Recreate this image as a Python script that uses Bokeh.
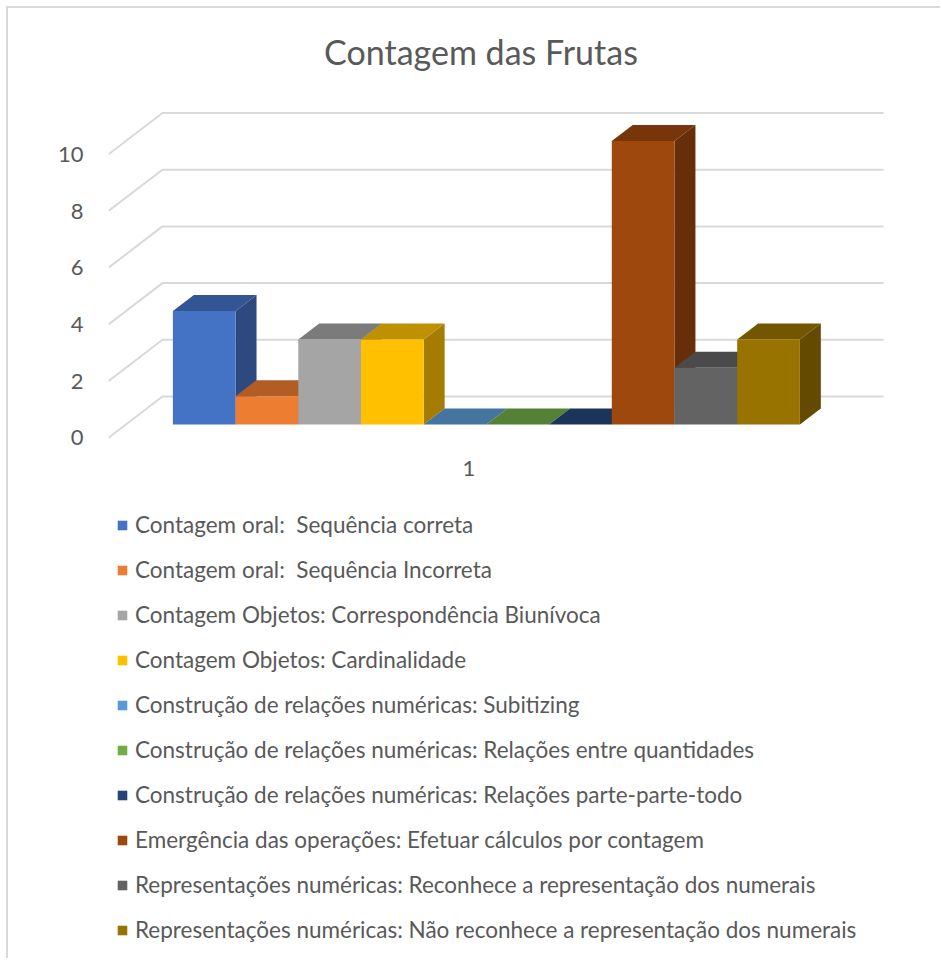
from bokeh.plotting import figure
from bokeh.models import Range1d, FixedTicker, Legend, LegendItem, ColumnDataSource, Label
from bokeh.embed import file_html
from bokeh.resources import INLINE
from bokeh.core.properties import value

# ---------------- data ----------------
chart_title = "Contagem das Frutas"
categories = ["1"]
series_names = [
    "Contagem oral:  Sequência correta",
    "Contagem oral:  Sequência Incorreta",
    "Contagem Objetos: Correspondência Biunívoca",
    "Contagem Objetos: Cardinalidade",
    "Construção de relações numéricas: Subitizing",
    "Construção de relações numéricas: Relações entre quantidades",
    "Construção de relações numéricas: Relações parte-parte-todo",
    "Emergência das operações: Efetuar cálculos por contagem",
    "Representações numéricas: Reconhece a representação dos numerais",
    "Representações numéricas: Não reconhece a representação dos numerais",
]
series_values = [4, 1, 3, 3, 0, 0, 0, 10, 2, 3]
y_ticks = [0, 2, 4, 6, 8, 10]
series_colors = ["#4472C4", "#ED7D31", "#A5A5A5", "#FFC000", "#5B9BD5",
                 "#70AD47", "#264478", "#9E480E", "#636363", "#997300"]

# ---------------- geometry / style ----------------
FONT = "Lato"
TEXT_COLOR = "#595959"
GRID_COLOR = "#D9D9D9"
OFFSET = 8         # canvas origin on the page (6px margin + 2px border)
W_PX = 62.7        # pixels per bar (x unit)
U_PX = 28.35       # pixels per value unit
X0_PAGE = 155.0    # page x of x=0 on the front plane
Y0_PAGE = 437.3    # page y of value 0 on the front plane
DEPTH_DX_PX = 54.0
DEPTH_DY_PX = 41.3
D0, D1 = 0.322, 0.71   # bar depth (fraction of floor depth)
GAP = 0.75             # floor margin each side, in bar widths
TOP_SHADE, SIDE_SHADE = 0.75, 0.65


def page_x(px):
    return (px - X0_PAGE) / W_PX


def page_y(py):
    return (Y0_PAGE - py) / U_PX


def shade(hex_color, k):
    h = hex_color.lstrip("#")
    r, g, b = (int(h[i:i + 2], 16) for i in (0, 2, 4))
    return "#%02X%02X%02X" % (int(r * k), int(g * k), int(b * k))


DX = DEPTH_DX_PX / W_PX
DY = DEPTH_DY_PX / U_PX
n = len(series_values)
floor_l, floor_r = -GAP, n + GAP

W, H = 942 - OFFSET, 960 - OFFSET
p = figure(width=W, height=H, output_backend="svg", toolbar_location=None,
           x_range=Range1d(page_x(108), page_x(942)),
           y_range=Range1d(page_y(960), page_y(OFFSET)),
           x_axis_location=None, y_axis_location="left",
           min_border_left=108 - OFFSET, min_border_right=0, min_border_top=0, min_border_bottom=0,
           outline_line_color=None, background_fill_color="white", border_fill_color="white",
           styles={"margin-left": "6px", "margin-top": "6px",
                   "border-left": "2px solid #D9D9D9", "border-top": "2px solid #D9D9D9"})
p.grid.visible = False

# y axis
ax = p.yaxis[0]
ax.ticker = FixedTicker(ticks=y_ticks)
ax.axis_line_color = None
ax.major_tick_line_color = None
ax.minor_tick_line_color = None
ax.major_label_standoff = 19
ax.major_label_text_font = FONT
ax.major_label_text_font_size = "22px"
ax.major_label_text_color = TEXT_COLOR

# 3D gridlines (front-floor edge -> back wall)
gx, gy = [], []
for t in y_ticks:
    gx.append([floor_l, floor_l + DX, floor_r + DX])
    gy.append([t, t + DY, t + DY])
p.multi_line(gx, gy, line_color=GRID_COLOR, line_width=2)

# bars
fx0, fx1, fy0, fy1 = [], [], [], []
top_xs, top_ys, side_xs, side_ys = [], [], [], []
for i, v in enumerate(series_values):
    xl = i + DX * D0
    xr = i + 1 + DX * D0
    yb = DY * D0
    yt = DY * D0 + v
    fx0.append(xl); fx1.append(xr); fy0.append(yb); fy1.append(yt)
    top_xs.append([xl, xr, xr + DX * (D1 - D0), xl + DX * (D1 - D0)])
    top_ys.append([yt, yt, yt + DY * (D1 - D0), yt + DY * (D1 - D0)])
    side_xs.append([xr, xr, xr + DX * (D1 - D0), xr + DX * (D1 - D0)])
    side_ys.append([yb, yt, yt + DY * (D1 - D0), yb + DY * (D1 - D0)])

p.patches(side_xs, side_ys, fill_color=[shade(c, SIDE_SHADE) for c in series_colors], line_color=None)
p.patches(top_xs, top_ys, fill_color=[shade(c, TOP_SHADE) for c in series_colors], line_color=None)
front_src = ColumnDataSource(dict(left=fx0, right=fx1, bottom=fy0, top=fy1, color=series_colors))
fronts = p.quad(left="left", right="right", bottom="bottom", top="top", fill_color="color",
                line_color=None, source=front_src)

# category label
p.text(x=[n / 2], y=[0], text=categories, y_offset=31, text_align="center", text_baseline="middle",
       text_font=value(FONT), text_font_size="22px", text_color=TEXT_COLOR)

# title
p.add_layout(Label(x=page_x(480.5), y=page_y(51), text=chart_title, text_align="center",
                   text_baseline="middle", text_font=FONT, text_font_size="34px",
                   text_color=TEXT_COLOR))

legend = Legend(items=[LegendItem(label=s, renderers=[fronts], index=i) for i, s in enumerate(series_names)],
                location=(8, 17), padding=0, margin=0, spacing=18, label_height=20,
                glyph_width=12, glyph_height=12, label_standoff=7,
                label_text_font=FONT, label_text_font_size="22.5px", label_text_color=TEXT_COLOR,
                border_line_color=None, background_fill_alpha=0)
p.add_layout(legend)

open("out.html", "w").write(file_html(p, INLINE))
